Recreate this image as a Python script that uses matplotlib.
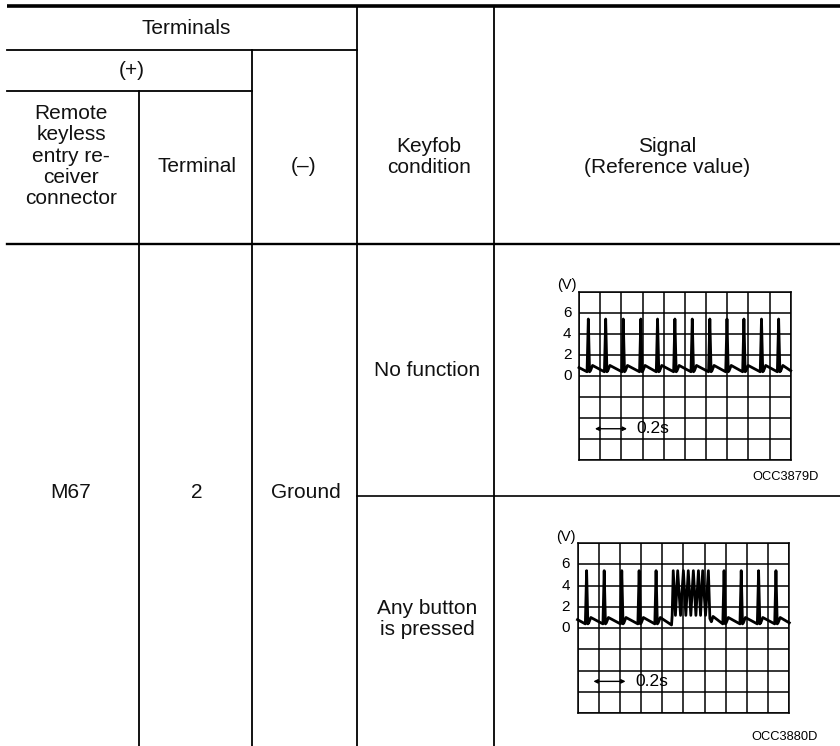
#!/usr/bin/env python3

import matplotlib
matplotlib.use("Agg")
import matplotlib.pyplot as plt

plt.rcParams['font.family'] = ['Liberation Sans', 'DejaVu Sans']

# ---- table text ----
head_terminals = "Terminals"
head_plus = "(+)"
head_connector = "Remote\nkeyless\nentry re-\nceiver\nconnector"
head_terminal = "Terminal"
head_minus = "(\u2013)"
head_condition = "Keyfob\ncondition"
head_signal = "Signal\n(Reference value)"

row_connector = "M67"
row_terminal = "2"
row_ground = "Ground"
conditions = ["No function", "Any button\nis pressed"]
codes = ["OCC3879D", "OCC3880D"]

# ---- waveform data (grid divisions, volts) ----
v_labels = [6, 4, 2, 0]
nofunc_spikes = [0.44, 1.26, 2.09, 2.92, 3.71, 4.53, 5.35, 6.18, 6.99, 7.79, 8.62, 9.43]
press_spikes = [0.43, 1.26, 2.09, 2.91, 3.71, 6.92, 7.73, 8.55, 9.37]
press_burst = [4.52, 4.73, 5.00, 5.23, 5.47, 5.71, 5.91, 6.18]
spike_peak = 5.4
base_start = 0.8
base_high = 1.0
base_low = 0.4
burst_low = 1.2
base_end = 0.5


def wave(spikes, burst):
  xs = [0.0]
  ys = [base_start]
  events = [(t, 's') for t in spikes]
  if burst:
    events.append((burst[0], 'b'))
  events.sort()
  for t, kind in events:
    if kind == 's':
      xs += [t - 0.06, t, t + 0.06, t + 0.1, t + 0.2]
      ys += [base_low, spike_peak, 0.4, 0.5, base_high]
    else:
      xs += [t - 0.08, t - 0.05]
      ys += [0.3, burst_low]
      for i, p in enumerate(burst):
        xs.append(p)
        ys.append(spike_peak)
        if i < len(burst) - 1:
          xs.append((p + burst[i + 1]) / 2)
          ys.append(burst_low)
      last = burst[-1]
      xs += [last + 0.07, last + 0.14, last + 0.22]
      ys += [0.9, 0.6, 1.1]
  xs.append(10.0)
  ys.append(base_end)
  return xs, ys


fig = plt.figure(figsize=(8.4, 7.46), dpi=100)

# background axes in pixel coordinates for the table
bg = fig.add_axes([0, 0, 1, 1])
bg.set_xlim(0, 840)
bg.set_ylim(746, 0)
bg.axis('off')

k = 'black'
bg.plot([7, 840], [6, 6], color=k, lw=2.6, solid_capstyle='butt')
bg.plot([7, 357], [50, 50], color=k, lw=1.3)
bg.plot([7, 252], [91, 91], color=k, lw=1.3)
bg.plot([7, 840], [244, 244], color=k, lw=1.7)
bg.plot([357, 840], [495.5, 495.5], color=k, lw=1.2)
bg.plot([138.5, 138.5], [91, 746], color=k, lw=1.3)
bg.plot([252, 252], [50, 746], color=k, lw=1.3)
bg.plot([357, 357], [6, 746], color=k, lw=1.3)
bg.plot([494, 494], [6, 746], color=k, lw=1.3)

fs = 15
tk = dict(ha='center', va='center', fontsize=fs, linespacing=1.15, color='#111111')
bg.text(186, 28, head_terminals, **tk)
bg.text(132, 70, head_plus, **tk)
bg.text(71, 156, head_connector, **tk)
bg.text(197, 167, head_terminal, **tk)
bg.text(304, 166, head_minus, **tk)
bg.text(429, 157, head_condition, **tk)
bg.text(667, 157, head_signal, **tk)

bg.text(71, 492, row_connector, **tk)
bg.text(197, 492, row_terminal, **tk)
bg.text(306, 492, row_ground, **tk)
bg.text(427, 370, conditions[0], **tk)
bg.text(427, 619, conditions[1], **tk)

# scope panels
panels = [
  ([579 / 840, (746 - 460.4) / 746, 211.7 / 840, 168.8 / 746], nofunc_spikes, [], 16.5),
  ([577.5 / 840, (746 - 713.3) / 746, 211.8 / 840, 170.3 / 746], press_spikes, press_burst, 23.5),
]

for i, (rect, spikes, burst, code_gap) in enumerate(panels):
  ax = fig.add_axes(rect)
  ax.set_xlim(0, 10)
  ax.set_ylim(-8, 8)
  ax.set_xticks(range(11))
  ax.set_yticks(range(-8, 9, 2))
  ax.grid(True, color=k, lw=1.1)
  ax.tick_params(length=0, labelbottom=False, labelleft=False)
  for s in ax.spines.values():
    s.set_color(k)
    s.set_linewidth(1.1)

  xs, ys = wave(spikes, burst)
  ax.plot(xs, ys, color=k, lw=2.0, solid_joinstyle='round', clip_on=False)

  for v in v_labels:
    ax.text(-0.35, v, str(v), ha='right', va='center', fontsize=11)
  ax.text(-0.55, 8.6, "(V)", ha='center', va='center', fontsize=10.5, clip_on=False)

  ax.annotate("", xy=(0.75, -5), xytext=(2.27, -5),
              arrowprops=dict(arrowstyle='<|-|>', color=k, lw=1.0,
                              mutation_scale=6, shrinkA=0, shrinkB=0))
  ax.text(2.72, -5, "0.2s", ha='left', va='center', fontsize=12.5)

  ax.text(1.0 + 28 / 211.7, -code_gap / rect[3] / 746, codes[i],
          transform=ax.transAxes, ha='right', va='center', fontsize=9.3,
          clip_on=False)

fig.savefig("out.png", dpi=100)
